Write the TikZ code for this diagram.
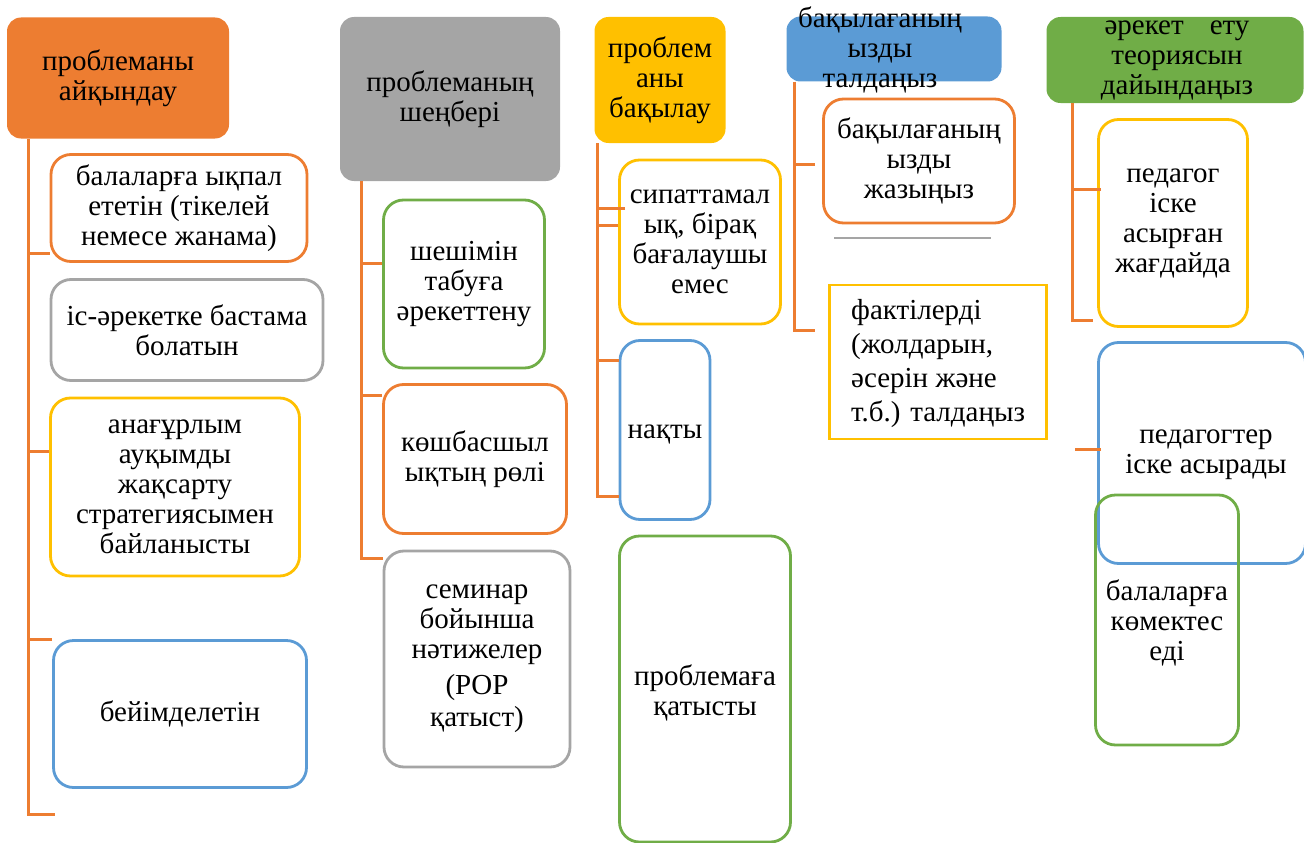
\documentclass[tikz,border=0pt]{standalone}
\usepackage{fontspec}
\setmainfont{Liberation Serif}
\definecolor{corange}{HTML}{ED7D31}
\definecolor{cgrey}{HTML}{A5A5A5}
\definecolor{cyellow}{HTML}{FFC000}
\definecolor{cblue}{HTML}{5B9BD5}
\definecolor{cgreen}{HTML}{70AD47}
\newcommand{\boxfont}{\fontsize{29}{30}\selectfont}
\tikzset{
  headbox/.style={rounded corners=14pt, inner sep=0pt, align=center, font=\boxfont},
  itembox/.style={draw, line width=2.8pt, rounded corners=20pt, inner sep=0pt, align=center, font=\boxfont},
  itemtext/.style={inner sep=0pt, align=center, font=\boxfont},
  link/.style={draw=corange, line width=3pt},
}

\begin{document}
\begin{tikzpicture}[x=1pt, y=-1pt]
	%%%%% START %%%%%
	\useasboundingbox (0,0) rectangle (1304,843);
	
	% column 1
	\node[headbox, fill=corange, minimum width=222pt, minimum height=121pt] (h1) at (118,78) {проблеманы\\айқындау};
	\node[itembox, draw=corange, minimum width=256pt, minimum height=107pt] (c1) at (179,208) {балаларға ықпал\\ететін (тікелей\\немесе жанама)};
	\node[itembox, draw=cgrey, minimum width=272pt, minimum height=101pt] (c2) at (187,330) {іс-әрекетке бастама\\болатын};
	\node[itembox, draw=cyellow, minimum width=249pt, minimum height=178pt] (c3) at (175,487) {анағұрлым\\ауқымды\\жақсарту\\стратегиясымен\\байланысты};
	\node[itembox, draw=cblue, minimum width=253pt, minimum height=147pt] (c4) at (180,714) {бейімделетін};
	\coordinate (c5) at (55,814);
	\draw[link] ([xshift=22pt]h1.south west) |- (c5);
	\draw[link] (c1.west |- 0,253) -- (29,253);
	\draw[link] (c3.west |- 0,451) -- (29,451);
	\draw[link] (c4.west |- 0,639) -- (29,639);
	
	% column 2
	\node[headbox, fill=cgrey, minimum width=220pt, minimum height=164pt] (h2) at (450,99) {проблеманың\\шеңбері};
	\node[itembox, draw=cgreen, minimum width=161pt, minimum height=168pt] (d1) at (464,284) {шешімін\\табуға\\әрекеттену};
	\node[itembox, draw=corange, minimum width=183pt, minimum height=149pt] (d2) at (475,459) {көшбасшыл\\ықтың рөлі};
	\node[itembox, draw=cgrey, minimum width=186pt, minimum height=216pt] (d3) at (477,659) {семинар\\бойынша\\нәтижелер\\[6pt](POP\\[2pt]қатыст)};
	\draw[link] ([xshift=22pt]h2.south west) |- (d3.west |- 0,558);
	\draw[link] (d1.west |- 0,263) -- (362,263);
	\draw[link] (d2.west |- 0,395) -- (362,395);
	
	% column 3
	\node[headbox, fill=cyellow, minimum width=131pt, minimum height=126pt] (h3) at (660,80) {проблем\\аны\\бақылау};
	\node[itembox, draw=cyellow, minimum width=161pt, minimum height=164pt] (e1) at (700,242) {сипаттамал\\ық, бірақ\\бағалаушы\\емес};
	\node[itembox, draw=cblue, minimum width=90pt, minimum height=179pt] (e2) at (665,430) {};
	\node[itemtext] (e2t) at (665,434) {нақты};
	\node[itembox, draw=cgreen, minimum width=171pt, minimum height=306pt] (e3) at (705,689) {};
	\node[itemtext] (e3t) at (705,693) {проблемаға\\қатысты};
	\draw[link] ([xshift=3pt]h3.south west) |- (e2.west |- 0,496);
	\draw[link] ([xshift=7pt]e1.west |- 0,208) -- (597,208);
	\draw[link] (e1.west |- 0,225) -- (597,225);
	\draw[link] (e2.west |- 0,360) -- (597,360);
	
	% column 4
	\node[headbox, fill=cblue, minimum width=215pt, minimum height=65pt] (h4) at (894,49) {};
	\node[itemtext] (h4t) at (880,50) {бақылағаның\\ызды\\талдаңыз};
	\node[itembox, draw=corange, minimum width=191pt, minimum height=124pt] (f1) at (919,161) {бақылағаның\\ызды\\жазыңыз};
	\node[itembox, draw=cyellow, rounded corners=0pt, minimum width=217pt, minimum height=154pt] (f2) at (938,362) {};
	\node[itemtext, anchor=west, align=left] (f2t) at (851,364) {фактілерді\\[4pt](жолдарын,\\[4pt]әсерін және\\[4pt]т.б.) талдаңыз};
	\draw[cgrey, line width=1.8pt] (834,238) -- (991,238);
	\draw[link] ([xshift=8pt]h4.south west) |- ([xshift=-13pt]f2.west |- 0,330);
	\draw[link] ([xshift=-7pt]f1.west |- 0,164) -- (795,164);
	
	% column 5
	\node[headbox, fill=cgreen, minimum width=257pt, minimum height=86pt] (h5) at (1175,60) {};
	\node[itemtext] (h5t) at (1177,60) {әрекет\hspace{0.9em}ету\\теориясын\\дайындаңыз};
	\node[itembox, draw=cyellow, minimum width=149pt, minimum height=207pt] (g1) at (1173,223) {педагог\\іске\\асырған\\жағдайда};
	\node[itembox, draw=cblue, minimum width=207pt, minimum height=221pt] (g2) at (1202,453) {};
	\node[itemtext] (g2t) at (1206,455) {педагогтер\\іске асырады};
	\node[itembox, draw=cgreen, minimum width=143pt, minimum height=250pt] (g3) at (1167,620) {};
	\node[itemtext] (g3t) at (1167,623) {балаларға\\көмектес\\еді};
	\draw[link] ([xshift=26pt]h5.south west) |- ([xshift=-4pt, yshift=7pt]g1.south west);
	\draw[link] ([xshift=4pt]g1.west |- 0,189) -- (1073,189);
	\draw[link] ([xshift=4pt]g2.west |- 0,449) -- (1075,449);
	%%%%% END %%%%%
\end{tikzpicture}
\end{document}
